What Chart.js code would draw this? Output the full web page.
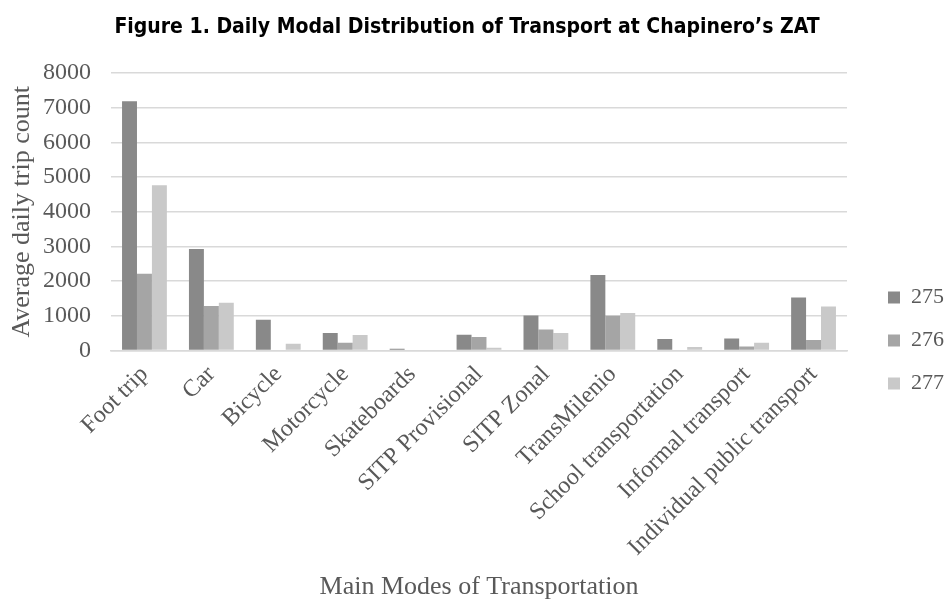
<!DOCTYPE html>
<html>
<head>
<meta charset="utf-8">
<script src="https://cdn.jsdelivr.net/npm/chart.js@4.4.0/dist/chart.umd.min.js"></script>
<style>
  body { margin: 0; background: #fff; }
  #wrap { width: 945px; height: 603px; position: relative; }
</style>
</head>
<body>
<div id="wrap"><canvas id="modalChart"></canvas></div>
<script>
// categories and values
categories = ["Foot trip", "Car", "Bicycle", "Motorcycle", "Skateboards", "SITP Provisional",
  "SITP Zonal", "TransMilenio", "School transportation", "Informal transport", "Individual public transport"];
zat275 = [7190, 2925, 885, 500, 50, 455, 1010, 2180, 330, 345, 1525];
zat276 = [2210, 1285, 0, 220, 0, 385, 605, 1000, 0, 115, 300];
zat277 = [4765, 1375, 190, 445, 0, 80, 505, 1080, 100, 220, 1265];
seriesNames = ["275", "276", "277"];
colors = ["#898989", "#a5a5a5", "#c9c9c9"];
yTicks = [0, 1000, 2000, 3000, 4000, 5000, 6000, 7000, 8000];

var serif = "'Liberation Serif', 'Times New Roman', serif";
var textColor = "#595959";

// legend sits a bit lower and further right than Chart.js puts it
var legendShift = { x: 20, y: 39 };

var legendNudge = {
  id: "legendNudge",
  afterLayout: function (chart) {
    var lg = chart.legend;
    lg.left += legendShift.x;
    lg.right += legendShift.x;
    lg.top += legendShift.y;
    lg.bottom += legendShift.y;
  },
};

var allValues = [zat275, zat276, zat277];
var datasets = [];
for (var i = 0; i < seriesNames.length; i++) {
  datasets.push({
    label: seriesNames[i],
    data: allValues[i],
    backgroundColor: colors[i],
    borderWidth: 0,
    categoryPercentage: 0.67,
    barPercentage: 1.0,
  });
}

new Chart(document.getElementById("modalChart"), {
  type: "bar",
  data: { labels: categories, datasets: datasets },
  plugins: [legendNudge],
  options: {
    responsive: true,
    maintainAspectRatio: false,
    animation: false,
    layout: { padding: { left: 0, right: 11, top: 0, bottom: 0 } },
    plugins: {
      title: {
        display: true,
        text: "Figure 1. Daily Modal Distribution of Transport at Chapinero\u2019s ZAT",
        color: "#000",
        font: { family: "'DejaVu Sans Condensed', 'DejaVu Sans'", weight: "bold", size: 21 },
        padding: { top: 15, bottom: 33 },
      },
      legend: {
        position: "right",
        labels: {
          color: textColor,
          font: { family: serif, size: 22 },
          boxWidth: 12,
          boxHeight: 12,
          padding: 21,
        },
      },
      tooltip: { enabled: false },
    },
    scales: {
      x: {
        grid: { display: false },
        border: { color: "#d9d9d9", width: 1.5 },
        ticks: {
          color: textColor,
          font: { family: serif, size: 24 },
          maxRotation: 45,
          minRotation: 45,
          padding: 2,
        },
        title: {
          display: true,
          text: "Main Modes of Transportation",
          color: textColor,
          font: { family: serif, size: 26 },
          padding: { top: 8, bottom: 0 },
        },
      },
      y: {
        min: 0,
        max: 8000,
        afterBuildTicks: function (axis) {
          axis.ticks = yTicks.map(function (v) { return { value: v }; });
        },
        afterFit: function (axis) {
          axis.width = 111;
        },
        grid: { color: "#d9d9d9", lineWidth: 1.5, drawTicks: false },
        border: { display: false },
        ticks: {
          color: textColor,
          font: { family: serif, size: 24 },
          padding: 20,
          callback: function (v) { return String(v); },
        },
        title: {
          display: true,
          text: "Average daily trip count",
          color: textColor,
          font: { family: serif, size: 26 },
          padding: { top: 7, bottom: 0 },
        },
      },
    },
  },
});
</script>
</body>
</html>
